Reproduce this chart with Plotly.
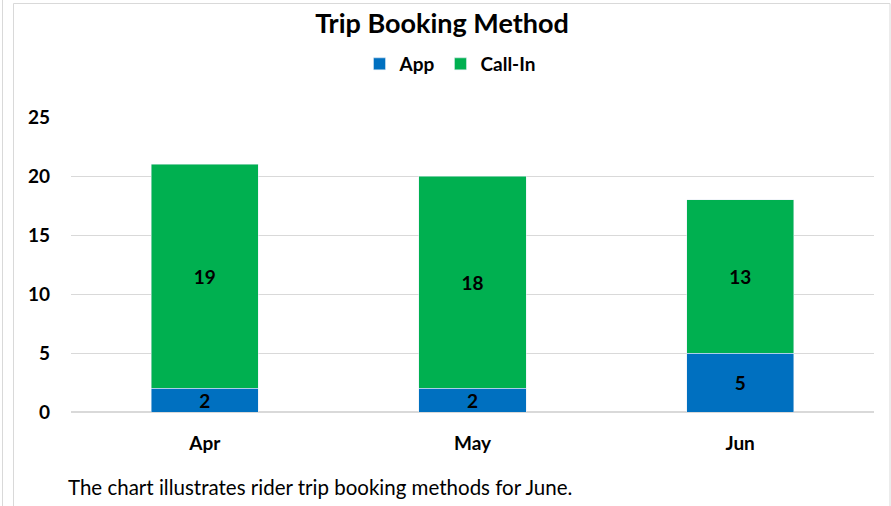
import plotly.graph_objects as go

months = ["Apr", "May", "Jun"]
app = [2, 2, 5]
call_in = [19, 18, 13]
y_ticks = [0, 5, 10, 15, 20, 25]

FONT = "Lato, 'Open Sans', sans-serif"
W, H = 891, 506
L, R, T, B = 71, 17, 117, 94
PW, PH = W - L - R, H - T - B


def px_x(p):
    return (p - L) / PW


def px_y(p):
    return 1 - (p - T) / PH


label_font = dict(family=FONT, size=19, color="black", weight="bold")

fig = go.Figure()
fig.add_trace(go.Bar(
    name="App", x=months, y=app, marker_color="#0070C0",
    text=app, textposition="inside", insidetextanchor="middle",
    textangle=0, constraintext="none", textfont=label_font,
))
fig.add_trace(go.Bar(
    name="Call-In", x=months, y=call_in, marker_color="#00B050",
    text=call_in, textposition="inside", insidetextanchor="middle",
    textangle=0, constraintext="none", textfont=label_font,
))

border = dict(color="#d9d9d9", width=1)
shapes = [
    # chart frame
    dict(type="rect", xref="paper", yref="paper",
         x0=px_x(13.5), x1=px_x(890), y0=px_y(520), y1=px_y(3.5), line=border),
    # outer sheet edge
    dict(type="line", xref="paper", yref="paper",
         x0=px_x(2.5), x1=px_x(2.5), y0=px_y(520), y1=px_y(0), line=border),
]

fig.update_layout(
    width=W, height=H,
    margin=dict(l=L, r=R, t=T, b=B),
    paper_bgcolor="white", plot_bgcolor="white",
    barmode="stack", bargap=0.6,
    font=dict(family=FONT, color="black"),
    title=dict(text="<b>Trip Booking Method</b>", x=442 / W,
               xref="container", xanchor="center",
               y=1 - 24 / H, yref="container", yanchor="middle",
               font=dict(family=FONT, size=27, color="black")),
    legend=dict(orientation="h", x=px_x(450), xanchor="center",
                y=px_y(64), yanchor="middle",
                font=dict(family=FONT, size=19, color="black", weight="bold"),
                itemwidth=30, traceorder="normal"),
    xaxis=dict(showgrid=False, showline=False, ticks="",
               ticklabelstandoff=18,
               tickfont=dict(family=FONT, size=19, weight="bold")),
    yaxis=dict(range=[0, 25], tickvals=y_ticks, showgrid=True,
               gridcolor="#d9d9d9", gridwidth=1, zeroline=True,
               zerolinecolor="#d9d9d9", zerolinewidth=1.5,
               ticks="", ticklen=0, ticklabelstandoff=20,
               tickfont=dict(family=FONT, size=19, weight="bold")),
    shapes=shapes,
    annotations=[dict(
        text="The chart illustrates rider trip booking methods for June.",
        xref="paper", yref="paper", x=px_x(66), y=px_y(487),
        xanchor="left", yanchor="middle", showarrow=False,
        font=dict(family=FONT, size=20.5, color="black"),
    )],
)

fig.write_html("out.html")
